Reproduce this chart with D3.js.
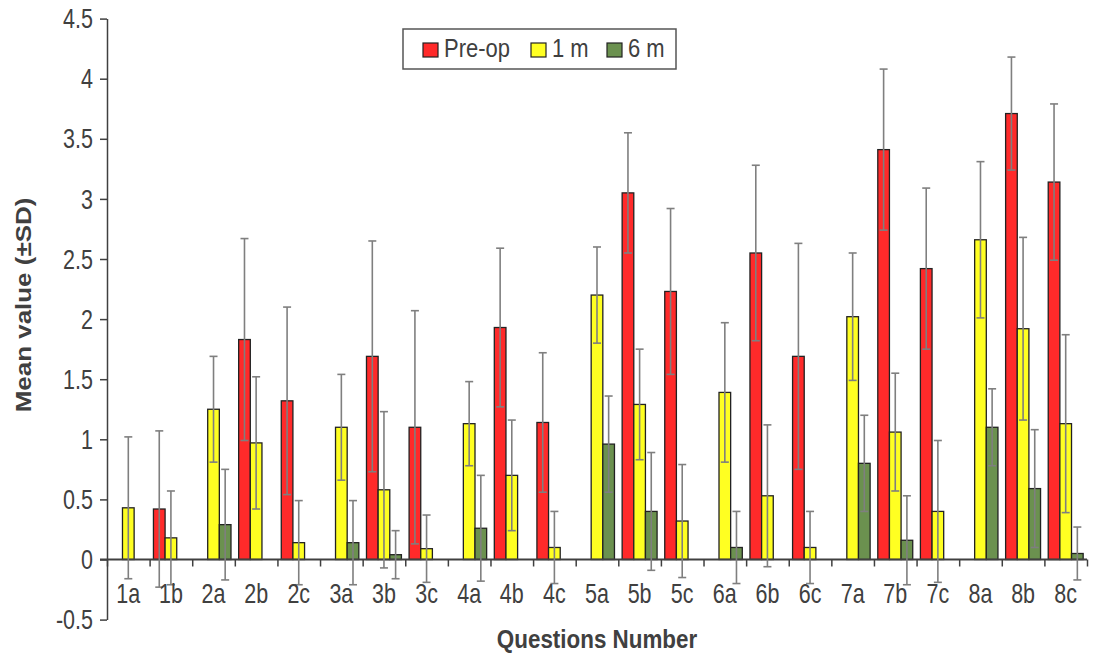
<!DOCTYPE html>
<html lang="en">
<head>
<meta charset="UTF-8">
<title>Mean value by question</title>
<script src="https://cdnjs.cloudflare.com/ajax/libs/d3/7.8.5/d3.min.js"></script>
<style>
  body { margin: 0; background: #fff; }
  svg { display: block; font-family: "Liberation Sans", Arial, sans-serif; }
  .lbl { fill: #404040; }
</style>
</head>
<body>
<svg width="1094" height="655"></svg>
<script>
const questions = ["1a","1b","2a","2b","2c","3a","3b","3c","4a","4b","4c","5a","5b","5c","6a","6b","6c","7a","7b","7c","8a","8b","8c"];
const seriesNames = ["Pre-op", "1 m", "6 m"];
const seriesColors = ["#ff2a2a", "#ffff22", "#6b914f"];

const preop   = [null,0.42,null,1.83,1.32,null,1.69,1.10,null,1.93,1.14,null,3.05,2.23,null,2.55,1.69,null,3.41,2.42,null,3.71,3.14];
const preopSD = [null,0.65,null,0.84,0.78,null,0.96,0.97,null,0.66,0.58,null,0.50,0.69,null,0.73,0.94,null,0.67,0.67,null,0.47,0.65];
const m1      = [0.43,0.18,1.25,0.97,0.14,1.10,0.58,0.09,1.13,0.70,0.10,2.20,1.29,0.32,1.39,0.53,0.10,2.02,1.06,0.40,2.66,1.92,1.13];
const m1SD    = [0.59,0.39,0.44,0.55,0.35,0.44,0.65,0.28,0.35,0.46,0.30,0.40,0.46,0.47,0.58,0.59,0.30,0.53,0.49,0.59,0.65,0.76,0.74];
const m6      = [null,null,0.29,null,null,0.14,0.04,null,0.26,null,null,0.96,0.40,null,0.10,null,null,0.80,0.16,null,1.10,0.59,0.05];
const m6SD    = [null,null,0.46,null,null,0.35,0.20,null,0.44,null,null,0.40,0.49,null,0.30,null,null,0.40,0.37,null,0.32,0.49,0.22];

const yTicks = [-0.5,0,0.5,1,1.5,2,2.5,3,3.5,4,4.5];

const values = [preop, m1, m6];
const sds = [preopSD, m1SD, m6SD];

const svg = d3.select("svg");
const plotLeft = 107, plotRight = 1087, plotTop = 18.6, plotBottom = 619.6;
const stretch = 1.25;

const y = d3.scaleLinear().domain([-0.5, 4.5]).range([plotBottom, plotTop]);
const x0 = d3.scaleBand().domain(questions).range([plotLeft, plotRight]).paddingInner(0.18).paddingOuter(0.09);
const x1 = d3.scaleBand().domain(seriesNames).range([0, x0.bandwidth()]);
const xb = d3.scaleLinear().domain([0, questions.length]).range([plotLeft, plotRight]);

// flat records
const rows = [];
questions.forEach((q, i) => {
  seriesNames.forEach((s, k) => {
    if (values[k][i] != null) rows.push({ q, s, k, v: values[k][i], sd: sds[k][i] });
  });
});

// y axis
const yAxis = svg.append("g")
  .attr("transform", `translate(${plotLeft},0)`)
  .call(d3.axisLeft(y).tickValues(yTicks).tickSize(7).tickSizeOuter(0).tickFormat(d => String(d)));
yAxis.select(".domain").attr("stroke", "#404040").attr("stroke-width", 1.5);
yAxis.selectAll(".tick line").attr("stroke", "#404040").attr("stroke-width", 1.5);
yAxis.selectAll(".tick text")
  .attr("class", "lbl")
  .attr("x", -14)
  .attr("dy", "0.34em")
  .attr("font-size", 21.5)
  .attr("transform", `scale(1,${stretch})`);

// bars
svg.append("g").selectAll("rect")
  .data(rows)
  .join("rect")
  .attr("x", d => x0(d.q) + x1(d.s))
  .attr("width", x1.bandwidth())
  .attr("y", d => y(d.v))
  .attr("height", d => y(0) - y(d.v))
  .attr("fill", d => seriesColors[d.k])
  .attr("stroke", "#222")
  .attr("stroke-width", 1.3);

// x axis line with ticks at category boundaries
const xAxis = svg.append("g")
  .attr("transform", `translate(0,${y(0)})`)
  .call(d3.axisBottom(xb).tickValues(d3.range(0, questions.length + 1)).tickSize(7).tickSizeOuter(0).tickFormat(""));
xAxis.select(".domain").attr("stroke", "#404040").attr("stroke-width", 2).attr("d", `M${plotLeft - 7},0H${plotRight}`);
xAxis.selectAll(".tick line").attr("stroke", "#404040").attr("stroke-width", 1.5);

// error bars
const eb = svg.append("g").attr("stroke", "#7f7f7f").attr("stroke-width", 1.6);
rows.forEach(d => {
  const cx = x0(d.q) + x1(d.s) + x1.bandwidth() / 2;
  const y1 = y(d.v + d.sd), y2 = y(d.v - d.sd);
  eb.append("line").attr("x1", cx).attr("x2", cx).attr("y1", y1).attr("y2", y2);
  eb.append("line").attr("x1", cx - 4).attr("x2", cx + 4).attr("y1", y1).attr("y2", y1);
  eb.append("line").attr("x1", cx - 4).attr("x2", cx + 4).attr("y1", y2).attr("y2", y2);
});

// category labels
svg.append("g").selectAll("text")
  .data(questions)
  .join("text")
  .attr("class", "lbl")
  .attr("text-anchor", "middle")
  .attr("font-size", 21.5)
  .attr("transform", d => `translate(${x0(d) + x0.bandwidth() / 2},603) scale(1,${stretch})`)
  .text(d => d);

// axis titles
svg.append("text")
  .attr("class", "lbl")
  .attr("text-anchor", "middle")
  .attr("font-weight", "bold")
  .attr("font-size", 22.4)
  .attr("transform", `translate(${(plotLeft + plotRight) / 2},648) scale(1,1.15)`)
  .text("Questions Number");

svg.append("text")
  .attr("class", "lbl")
  .attr("text-anchor", "middle")
  .attr("font-weight", "bold")
  .attr("font-size", 22)
  .attr("transform", `translate(31,305) rotate(-90) scale(1.18,1)`)
  .text("Mean value (±SD)");

// legend
const lg = svg.append("g");
lg.append("rect").attr("x", 403).attr("y", 29).attr("width", 273).attr("height", 40)
  .attr("fill", "#fff").attr("stroke", "#555").attr("stroke-width", 1.5);
const legendX = [423, 531, 607];
seriesNames.forEach((s, k) => {
  lg.append("rect").attr("x", legendX[k]).attr("y", 43).attr("width", 15).attr("height", 14)
    .attr("fill", seriesColors[k]).attr("stroke", "#222").attr("stroke-width", 1.2);
  lg.append("text").attr("class", "lbl").attr("font-size", 22)
    .attr("transform", `translate(${legendX[k] + 21},57) scale(1,1.2)`)
    .text(s);
});
</script>
</body>
</html>
